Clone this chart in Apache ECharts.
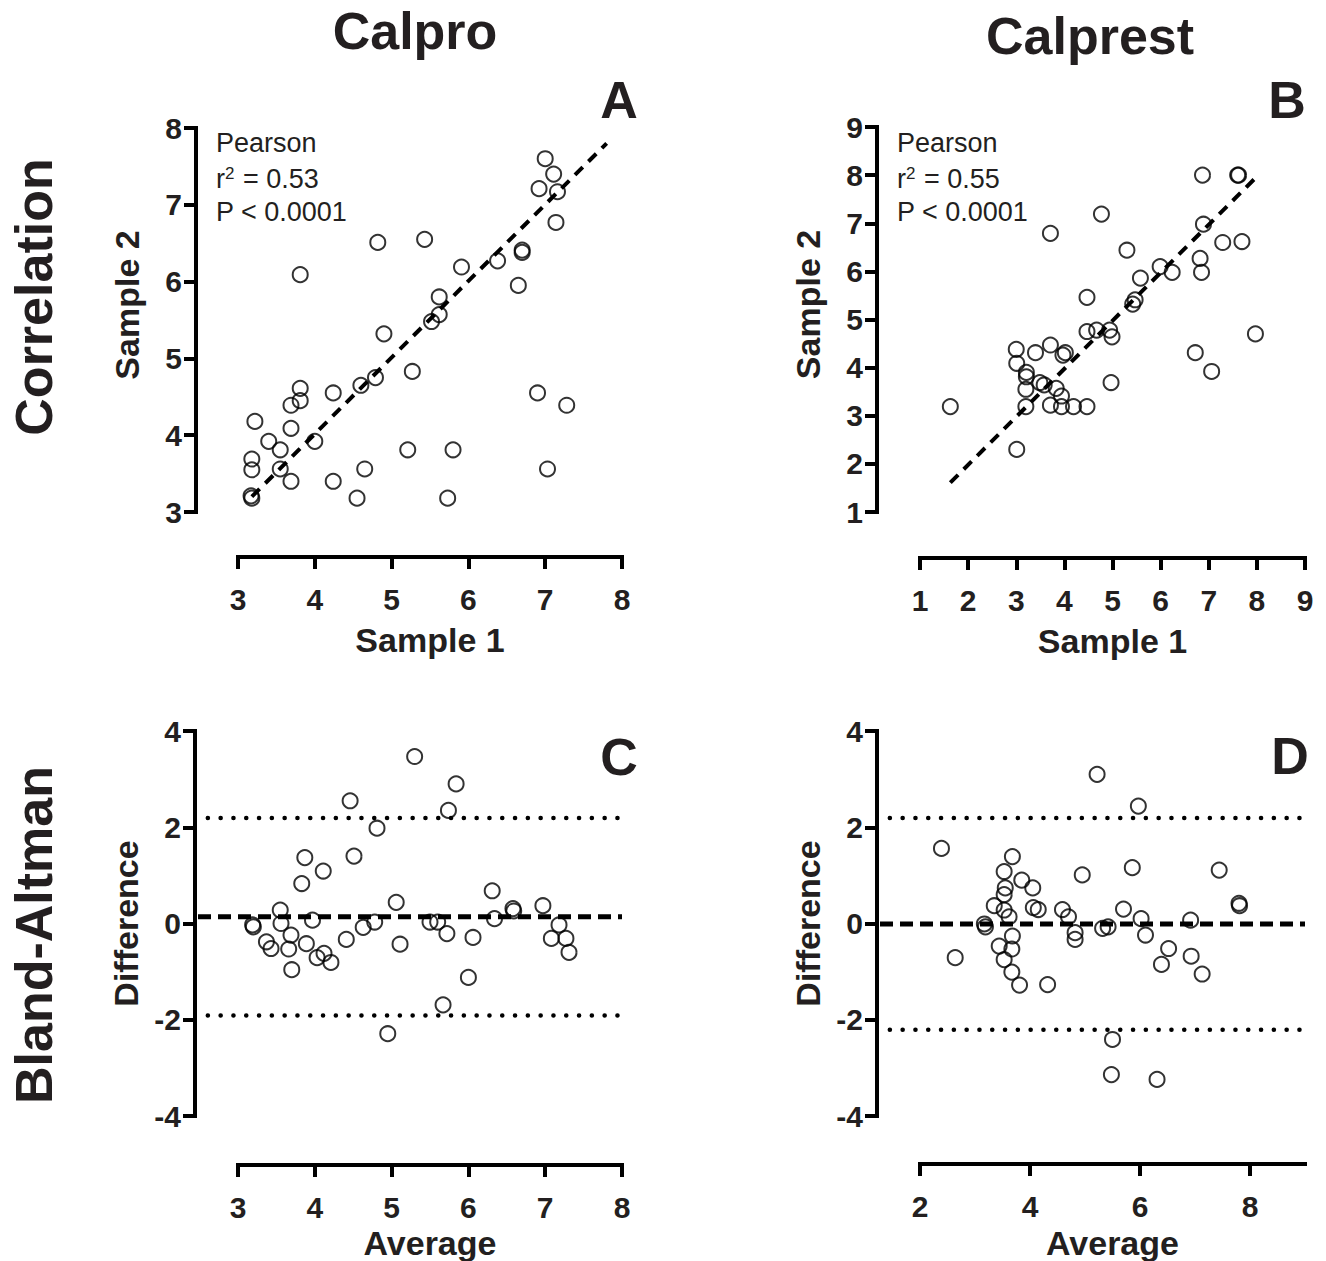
<!DOCTYPE html>
<html><head><meta charset="utf-8">
<script src="https://cdn.jsdelivr.net/npm/echarts@6/dist/echarts.min.js"></script>
<style>html,body{margin:0;padding:0;background:#fff}#c{width:1326px;height:1261px}</style>
</head><body><div id="c"></div>
<script>
// ---------- data ----------
// Panel A: Calpro correlation
const calproSample1 = [7.00,7.11,6.92,7.16,7.14,4.82,5.43,3.81,6.70,6.70,6.38,5.91,6.65,5.62,5.62,5.52,4.90,5.27,4.79,4.60,4.24,3.81,3.81,3.69,3.69,3.22,3.40,4.00,3.55,3.18,3.18,3.55,3.69,4.24,4.65,5.21,5.80,4.55,5.73,3.17,3.18,6.90,7.28,7.03];
const calproSample2 = [7.60,7.40,7.21,7.17,6.77,6.51,6.55,6.09,6.41,6.38,6.27,6.19,5.95,5.80,5.57,5.48,5.32,4.83,4.75,4.65,4.55,4.61,4.45,4.39,4.09,4.18,3.92,3.92,3.81,3.69,3.55,3.56,3.40,3.40,3.56,3.81,3.81,3.18,3.18,3.21,3.18,4.55,4.39,3.56];
const calproFitX = [3.18, 7.80];
const calproFitY = [3.20, 7.80];
// Panel B: Calprest correlation
const calprestSample1 = [6.87,7.60,7.62,4.77,3.71,6.89,7.29,7.69,5.30,6.82,6.85,5.99,6.24,5.58,4.47,5.47,5.42,4.47,4.67,4.94,4.99,7.97,3.00,3.40,3.71,4.02,3.97,6.72,3.01,3.21,3.21,7.06,3.49,3.58,3.83,3.94,4.97,3.20,1.63,3.20,3.71,3.94,4.19,4.47,3.01];
const calprestSample2 = [8.00,8.00,8.00,7.19,6.79,6.98,6.60,6.62,6.44,6.27,5.98,6.10,5.98,5.86,5.46,5.41,5.32,4.75,4.78,4.78,4.64,4.70,4.38,4.31,4.47,4.31,4.26,4.31,4.09,3.90,3.81,3.92,3.69,3.64,3.57,3.41,3.69,3.55,3.19,3.19,3.22,3.19,3.19,3.19,2.30];
const calprestFitX = [1.63, 8.03];
const calprestFitY = [1.61, 8.00];
// Panel C: Calpro Bland-Altman
const calproAverage = [5.30,5.84,4.46,5.74,4.81,3.87,4.51,4.11,3.83,6.31,5.06,6.97,6.58,6.59,3.55,6.34,3.97,3.19,3.20,3.56,4.78,4.63,5.50,5.60,5.72,7.18,7.08,7.27,7.31,6.06,5.11,4.41,3.69,3.37,3.43,3.66,3.89,4.03,4.12,4.21,3.70,6.00,5.67,4.95];
const calproDifference = [3.47,2.90,2.55,2.35,1.98,1.37,1.40,1.09,0.83,0.68,0.44,0.37,0.31,0.26,0.28,0.10,0.07,-0.03,-0.07,0.00,0.03,-0.08,0.03,0.03,-0.21,-0.03,-0.31,-0.31,-0.60,-0.29,-0.43,-0.33,-0.24,-0.38,-0.52,-0.53,-0.42,-0.71,-0.62,-0.81,-0.96,-1.12,-1.69,-2.29];
const calproBias = 0.14;
const calproLimits = [2.19, -1.91];
// Panel D: Calprest Bland-Altman
const calprestAverage = [5.22,5.97,2.39,3.68,3.53,5.86,7.44,4.95,3.85,3.55,4.05,3.53,3.35,4.06,4.15,4.59,4.70,3.53,3.62,7.80,7.81,5.70,6.02,6.92,3.17,3.19,4.82,4.82,5.32,5.42,3.68,6.10,2.64,3.44,3.67,3.53,6.52,6.39,6.93,7.13,3.67,3.81,4.32,5.50,5.48,6.31];
const calprestDifference = [3.10,2.44,1.56,1.39,1.08,1.16,1.11,1.01,0.90,0.74,0.74,0.60,0.37,0.33,0.29,0.29,0.14,0.28,0.14,0.42,0.37,0.30,0.10,0.07,-0.01,-0.07,-0.19,-0.33,-0.10,-0.07,-0.26,-0.24,-0.71,-0.47,-0.53,-0.75,-0.52,-0.85,-0.68,-1.05,-1.01,-1.28,-1.27,-2.41,-3.14,-3.24];
const calprestBias = -0.01;
const calprestLimits = [2.19, -2.21];
// tick labels
const ticksA_x = [3,4,5,6,7,8], ticksA_y = [3,4,5,6,7,8];
const ticksB_x = [1,2,3,4,5,6,7,8,9], ticksB_y = [1,2,3,4,5,6,7,8,9];
const ticksC_x = [3,4,5,6,7,8], ticksBA_y = [-4,-2,0,2,4];
const ticksD_x = [2,4,6,8];

// ---------- styling ----------
const FONT = '"Liberation Sans", Arial, Helvetica, sans-serif';
const INK = '#231f20';
const zip = (a, b) => a.map((v, i) => [v, b[i]]);

function axisBase(ticks) {
  return {
    type: 'value',
    splitLine: { show: false },
    axisLine: { show: true, onZero: false, lineStyle: { color: '#000', width: 4, cap: 'square' } },
    axisTick: { show: true, inside: false, length: 12, lineStyle: { color: '#000', width: 4 }, customValues: ticks },
    axisLabel: { show: true, color: INK, fontFamily: FONT, fontWeight: 'bold', fontSize: 30, customValues: ticks },
    nameLocation: 'middle',
    nameTextStyle: { color: INK, fontFamily: FONT, fontWeight: 'bold', fontSize: 34 }
  };
}
function xAx(gi, min, max, ticks, name, offset, gap) {
  const a = axisBase(ticks);
  Object.assign(a, { gridIndex: gi, min, max, offset, name, nameGap: gap, position: 'bottom' });
  a.axisLabel.margin = 27;
  return a;
}
function yAx(gi, min, max, ticks, name, offset, shiftUp) {
  const a = axisBase(ticks);
  Object.assign(a, { gridIndex: gi, min, max, offset, name, nameGap: 52, position: 'left' });
  a.axisLabel.margin = 14;
  if (shiftUp) a.nameTextStyle.padding = [0, 0, 0, shiftUp * 2];
  return a;
}
function scatter(xi, data) {
  return { type: 'scatter', xAxisIndex: xi, yAxisIndex: xi, data, symbol: 'circle', symbolSize: 15, clip: false,
    itemStyle: { color: 'rgba(0,0,0,0)', borderColor: '#000', borderWidth: 2 }, emphasis: { disabled: true }, z: 3 };
}
function line(xi, data, width, dash, cap, offset) {
  return { type: 'line', xAxisIndex: xi, yAxisIndex: xi, data, symbol: 'none', silent: true, clip: false,
    lineStyle: { color: '#000', width, type: dash, cap: cap || 'butt', dashOffset: offset || 0 }, z: 2 };
}
function hiddenAxes(gi, ymin, ymax) {
  return [{ type: 'value', gridIndex: gi, min: 0, max: 1, show: false },
          { type: 'value', gridIndex: gi, min: ymin, max: ymax, show: false }];
}
function txt(x, y, text, font, opts) {
  return Object.assign({ type: 'text', x, y, silent: true,
    style: { text, font, fill: INK, textAlign: (opts && opts.align) || 'center', textVerticalAlign: 'middle' } }, opts && opts.extra);
}
function annot(x, y, text) {
  return { type: 'text', x, y, silent: true,
    style: { text, fill: INK, fontSize: 27, fontFamily: FONT, fontWeight: 'normal',
      textAlign: 'left', textVerticalAlign: 'middle',
      rich: { sup: { fontSize: 17, fontFamily: FONT, fill: INK, verticalAlign: 'top', lineHeight: 27, padding: [0, 1, 0, 0] } } } };
}

const grids = [
  { left: 238, top: 128, width: 384, height: 384 },   // A
  { left: 920, top: 127, width: 385, height: 385 },   // B
  { left: 238, top: 731, width: 384, height: 385 },   // C
  { left: 920, top: 731, width: 385, height: 385 },   // D
  { left: 198, top: 731, width: 424, height: 385 },   // C reference lines
  { left: 880, top: 731, width: 425, height: 385 }    // D reference lines
].map(g => Object.assign({ containLabel: false, outerBoundsMode: 'none' }, g));

const hc = hiddenAxes(4, -4, 4), hd = hiddenAxes(5, -4, 4);
const xAxes = [
  xAx(0, 3, 8, ticksA_x, 'Sample 1', 45, 66),
  xAx(1, 1, 9, ticksB_x, 'Sample 1', 46, 66),
  xAx(2, 3, 8, ticksC_x, 'Average', 49, 61),
  xAx(3, 2, 9, ticksD_x, 'Average', 48, 62),
  hc[0], hd[0]
];
const yAxes = [
  yAx(0, 3, 8, ticksA_y, 'Sample 2', 42, 15),
  yAx(1, 1, 9, ticksB_y, 'Sample 2', 43, 15),
  yAx(2, -4, 4, ticksBA_y, 'Difference', 43, 0),
  yAx(3, -4, 4, ticksBA_y, 'Difference', 43, 0),
  hc[1], hd[1]
];

const DASH_FIT = [11, 8], DASH_BIAS = [13, 7], DOT = [0.1, 12.7];
const series = [
  line(0, zip(calproFitX, calproFitY), 4, DASH_FIT),
  scatter(0, zip(calproSample1, calproSample2)),
  line(1, zip(calprestFitX, calprestFitY), 4, DASH_FIT),
  scatter(1, zip(calprestSample1, calprestSample2)),
  scatter(2, zip(calproAverage, calproDifference)),
  line(4, [[0, calproBias], [1, calproBias]], 5, DASH_BIAS),
  line(4, [[0, calproLimits[0]], [1, calproLimits[0]]], 4.5, DOT, 'round', 2.8),
  line(4, [[0, calproLimits[1]], [1, calproLimits[1]]], 4.5, DOT, 'round', 2.8),
  scatter(3, zip(calprestAverage, calprestDifference)),
  line(5, [[0, calprestBias], [1, calprestBias]], 5, DASH_BIAS),
  line(5, [[0, calprestLimits[0]], [1, calprestLimits[0]]], 4.5, DOT, 'round', 2.8),
  line(5, [[0, calprestLimits[1]], [1, calprestLimits[1]]], 4.5, DOT, 'round', 2.8)
];

const BIG = `bold 52px ${FONT}`;
const graphic = [
  txt(415, 31, 'Calpro', BIG),
  txt(1090, 36, 'Calprest', BIG),
  txt(34, 297, 'Correlation', BIG, { extra: { rotation: Math.PI / 2 } }),
  txt(34, 935, 'Bland-Altman', BIG, { extra: { rotation: Math.PI / 2 } }),
  txt(619, 100, 'A', BIG), txt(1287, 100, 'B', BIG),
  txt(619, 757, 'C', BIG), txt(1290, 756, 'D', BIG),
  annot(216, 143, 'Pearson'),
  annot(216, 178.5, 'r{sup|2} = 0.53'),
  annot(216, 211.5, 'P < 0.0001'),
  annot(897, 143, 'Pearson'),
  annot(897, 178.5, 'r{sup|2} = 0.55'),
  annot(897, 211.5, 'P < 0.0001')
];

const chart = echarts.init(document.getElementById('c'), null, { renderer: 'svg', width: 1326, height: 1261 });
chart.setOption({
  backgroundColor: '#fff',
  animation: false,
  tooltip: { show: false },
  grid: grids,
  xAxis: xAxes,
  yAxis: yAxes,
  series,
  graphic
});
</script></body></html>
